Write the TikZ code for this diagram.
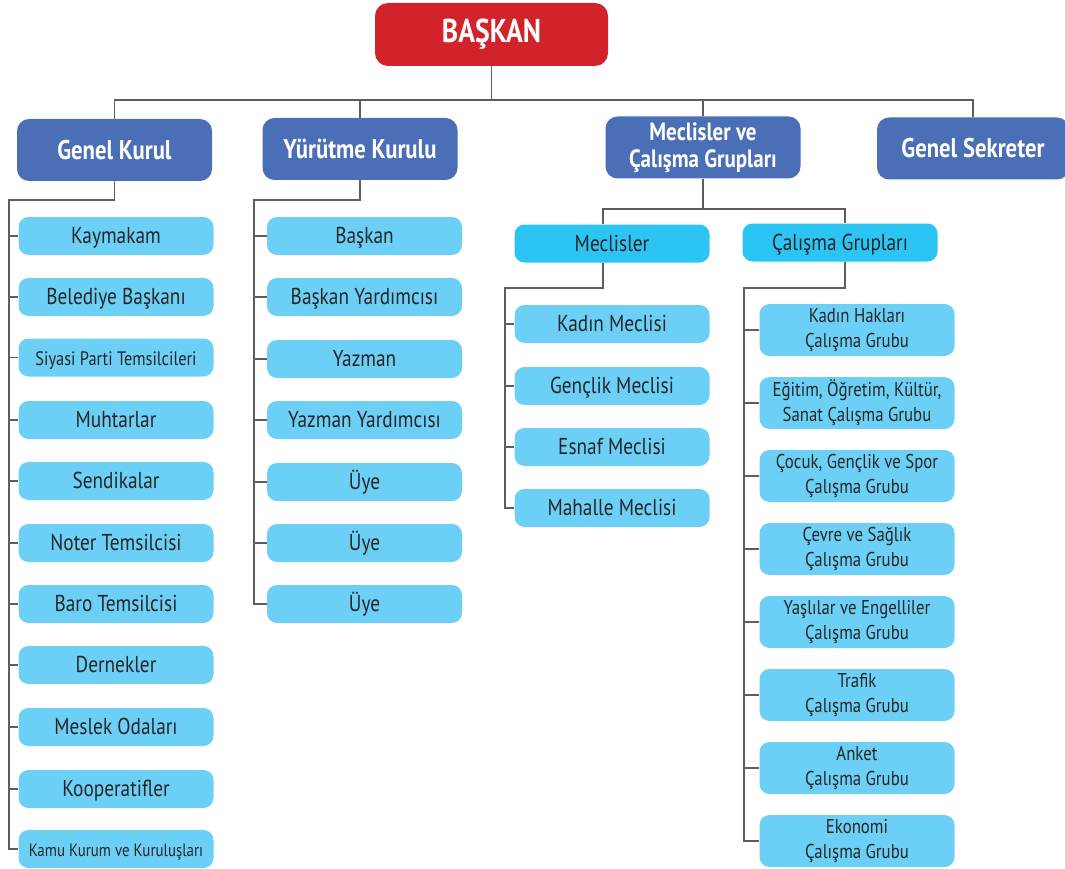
\documentclass[tikz,border=0pt]{standalone}
\usepackage{fontspec}
\setmainfont{PT Sans}[FakeStretch=0.84]
\definecolor{redc}{HTML}{D2232A}
\definecolor{bluec}{HTML}{4A6FB6}
\definecolor{lightc}{HTML}{6CCFF6}
\definecolor{brightc}{HTML}{2CC4F2}
\definecolor{txt}{HTML}{262626}
\definecolor{linec}{HTML}{5E5E5E}
\begin{document}
\begin{tikzpicture}[x=1pt,y=-1pt,
 box/.style={rounded corners=10pt, inner sep=0pt, align=center},
 topbox/.style={box, fill=redc, text=white, font=\bfseries\fontsize{33}{35}\selectfont, minimum width=233pt, minimum height=63pt, rounded corners=13pt},
 hdr/.style={box, fill=bluec, text=white, font=\bfseries\fontsize{27}{27}\selectfont, minimum width=195pt, minimum height=62pt, rounded corners=12pt},
 leaf/.style={box, fill=lightc, text=txt, font=\fontsize{23}{24}\selectfont, minimum width=195pt, minimum height=38pt, text height=16pt, text depth=1pt},
 subbox/.style={leaf, fill=brightc},
 wg/.style={box, fill=lightc, text=txt, font=\fontsize{20}{25}\selectfont, minimum width=195pt, minimum height=52pt},
 conn/.style={draw=linec, line width=1.2pt}
]
\useasboundingbox (0,0) rectangle (1065,869);
% top
\node[topbox] (bas) at (491.5,34.5) {BAŞKAN};
\node[hdr] (gk) at (114.5,150) {Genel Kurul};
\node[hdr] (yk) at (360,149) {Yürütme Kurulu};
\node[hdr, font=\bfseries\fontsize{25}{27}\selectfont] (mc) at (703,147.5) {Meclisler ve\\Çalışma Grupları};
\node[hdr, minimum width=192pt] (gs) at (973,148.5) {Genel Sekreter};
\coordinate (bus) at (0,100);
\draw[conn] (bas.south) -- (bas.south |- bus);
\draw[conn] (gk.north) -- (gk.north |- bus) -- (gs.north |- bus) -- (gs.north);
\draw[conn] (yk.north) -- (yk.north |- bus);
\draw[conn] (mc.north) -- (mc.north |- bus);
% Genel Kurul children
\node[leaf] (g1) at (116,236) {Kaymakam};
\node[leaf] (g2) at (116,297) {Belediye Başkanı};
\node[leaf, font=\fontsize{19.5}{20}\selectfont] (g3) at (116,357.5) {Siyasi Parti Temsilcileri};
\node[leaf] (g4) at (116,420) {Muhtarlar};
\node[leaf] (g5) at (116,481) {Sendikalar};
\node[leaf] (g6) at (116,543) {Noter Temsilcisi};
\node[leaf] (g7) at (116,604) {Baro Temsilcisi};
\node[leaf] (g8) at (116,665) {Dernekler};
\node[leaf] (g9) at (116,727) {Meslek Odaları};
\node[leaf] (g10) at (116,789) {Kooperatifler};
\node[leaf, font=\fontsize{17.8}{20}\selectfont] (g11) at (116,849) {Kamu Kurum ve Kuruluşları};
\coordinate (grail) at (9,200);
\draw[conn] (gk.south) |- (grail) -- (grail |- g11.west) -- (g11.west);
\foreach \i in {1,...,10} \draw[conn] (grail |- g\i.west) -- (g\i.west);
% Yurutme children
\node[leaf] (y1) at (364.5,236) {Başkan};
\node[leaf] (y2) at (364.5,297) {Başkan Yardımcısı};
\node[leaf] (y3) at (364.5,359) {Yazman};
\node[leaf] (y4) at (364.5,420) {Yazman Yardımcısı};
\node[leaf] (y5) at (364.5,482) {Üye};
\node[leaf] (y6) at (364.5,543) {Üye};
\node[leaf] (y7) at (364.5,604) {Üye};
\coordinate (yrail) at (254,200);
\draw[conn] (yk.south) |- (yrail) -- (yrail |- y7.west) -- (y7.west);
\foreach \i in {1,...,6} \draw[conn] (yrail |- y\i.west) -- (y\i.west);
% Meclisler / Calisma
\node[subbox] (ms) at (612,243.5) {Meclisler};
\node[subbox] (cg) at (840,242.5) {Çalışma Grupları};
\coordinate (mbus) at (0,209);
\coordinate (mdrop) at (603,0);
\coordinate (cdrop) at (845,0);
\draw[conn] (mc.south) -- (mc.south |- mbus);
\draw[conn] (mdrop |- ms.north) -- (mdrop |- mbus) -- (cdrop |- mbus) -- (cdrop |- cg.north);
% Meclisler children
\node[leaf] (m1) at (612,324) {Kadın Meclisi};
\node[leaf] (m2) at (612,386) {Gençlik Meclisi};
\node[leaf] (m3) at (612,447) {Esnaf Meclisi};
\node[leaf] (m4) at (612,508) {Mahalle Meclisi};
\coordinate (mrail) at (505,288);
\draw[conn] (mdrop |- ms.south) |- (mrail) -- (mrail |- m4.west) -- (m4.west);
\foreach \i in {1,...,3} \draw[conn] (mrail |- m\i.west) -- (m\i.west);
% Calisma children
\node[wg] (c1) at (857,330) {Kadın Hakları\\Çalışma Grubu};
\node[wg] (c2) at (857,403) {Eğitim, Öğretim, Kültür,\\Sanat Çalışma Grubu};
\node[wg] (c3) at (857,476) {Çocuk, Gençlik ve Spor\\Çalışma Grubu};
\node[wg] (c4) at (857,549) {Çevre ve Sağlık\\Çalışma Grubu};
\node[wg] (c5) at (857,622) {Yaşlılar ve Engelliler\\Çalışma Grubu};
\node[wg] (c6) at (857,695) {Trafik\\Çalışma Grubu};
\node[wg] (c7) at (857,768) {Anket\\Çalışma Grubu};
\node[wg] (c8) at (857,841) {Ekonomi\\Çalışma Grubu};
\coordinate (crail) at (744,288);
\draw[conn] (cdrop |- cg.south) |- (crail) -- (crail |- c8.west) -- (c8.west);
\foreach \i in {1,...,7} \draw[conn] (crail |- c\i.west) -- (c\i.west);
\end{tikzpicture}
\end{document}
